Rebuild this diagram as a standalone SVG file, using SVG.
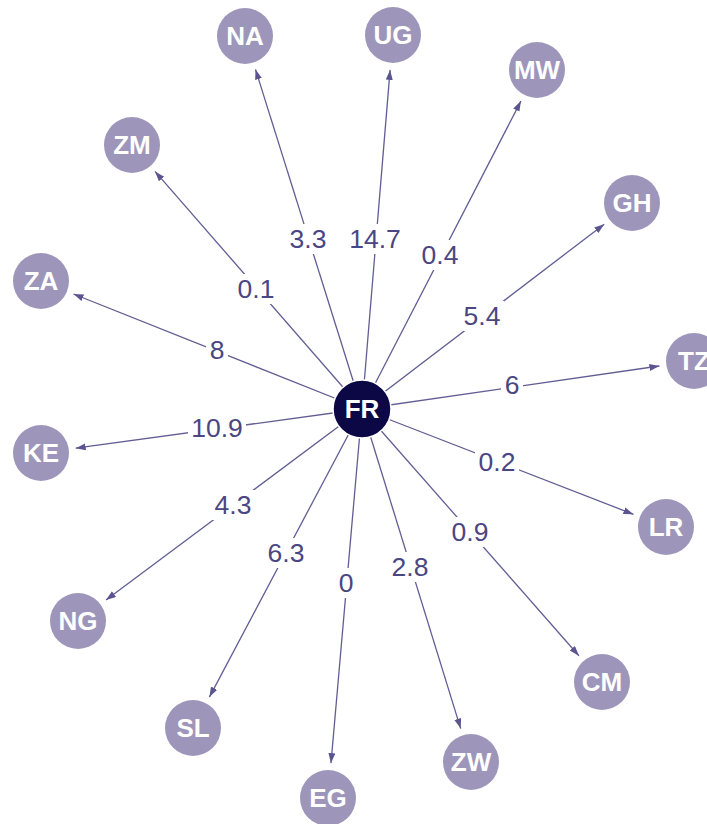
<svg xmlns="http://www.w3.org/2000/svg" width="707" height="824" viewBox="0 0 707 824">
<style>
.e{stroke:#625d93;stroke-width:1.3;fill:none;marker-end:url(#ah)}
.n{fill:#9d96ba}
.nt{fill:#fff;font-family:"Liberation Sans",Arial,sans-serif;font-weight:bold;font-size:26px;text-anchor:middle;dominant-baseline:central}
.lb{fill:#4a4683;font-family:"Liberation Sans",Arial,sans-serif;font-size:26.5px;text-anchor:middle;dominant-baseline:central}
.bg{fill:#fff}
</style>
<defs>
<marker id="ah" markerUnits="userSpaceOnUse" markerWidth="11" markerHeight="8" refX="10" refY="3.5" orient="auto">
<path d="M0,0 L10,3.5 L0,7 z" fill="#5a5590"/>
</marker>
</defs>
<rect width="707" height="824" fill="#fff"/>
<g id="edges">
<line class="e" x1="362" y1="409" x2="255.5" y2="69.4"/>
<line class="e" x1="362" y1="409" x2="390.1" y2="69.9"/>
<line class="e" x1="362" y1="409" x2="520.9" y2="101.1"/>
<line class="e" x1="362" y1="409" x2="155" y2="171.4"/>
<line class="e" x1="362" y1="409" x2="604.2" y2="224.2"/>
<line class="e" x1="362" y1="409" x2="73.5" y2="294"/>
<line class="e" x1="362" y1="409" x2="659.4" y2="366"/>
<line class="e" x1="362" y1="409" x2="75.7" y2="448.2"/>
<line class="e" x1="362" y1="409" x2="633.4" y2="514.3"/>
<line class="e" x1="362" y1="409" x2="106" y2="600.1"/>
<line class="e" x1="362" y1="409" x2="578.9" y2="655.7"/>
<line class="e" x1="362" y1="409" x2="209.4" y2="697.1"/>
<line class="e" x1="362" y1="409" x2="460.7" y2="728.6"/>
<line class="e" x1="362" y1="409" x2="331" y2="763.1"/>
</g>
<g id="edge-labels">
<rect class="bg" x="286" y="224" width="44" height="30"/><text class="lb" x="308" y="239">3.3</text>
<rect class="bg" x="346" y="224" width="58" height="30"/><text class="lb" x="375" y="239">14.7</text>
<rect class="bg" x="418" y="240" width="44" height="30"/><text class="lb" x="440" y="255">0.4</text>
<rect class="bg" x="234" y="274" width="44" height="30"/><text class="lb" x="256" y="289">0.1</text>
<rect class="bg" x="460" y="301" width="44" height="30"/><text class="lb" x="482" y="316">5.4</text>
<rect class="bg" x="206" y="335" width="22" height="30"/><text class="lb" x="217" y="350">8</text>
<rect class="bg" x="501" y="370" width="22" height="30"/><text class="lb" x="512" y="385">6</text>
<rect class="bg" x="188" y="413" width="58" height="30"/><text class="lb" x="217" y="428">10.9</text>
<rect class="bg" x="475" y="447" width="44" height="30"/><text class="lb" x="497" y="462">0.2</text>
<rect class="bg" x="211" y="490" width="44" height="30"/><text class="lb" x="233" y="505">4.3</text>
<rect class="bg" x="448" y="517" width="44" height="30"/><text class="lb" x="470" y="532">0.9</text>
<rect class="bg" x="264" y="538" width="44" height="30"/><text class="lb" x="286" y="553">6.3</text>
<rect class="bg" x="388" y="552" width="44" height="30"/><text class="lb" x="410" y="567">2.8</text>
<rect class="bg" x="335" y="568" width="22" height="30"/><text class="lb" x="346" y="583">0</text>
</g>
<g id="FR"><circle cx="362" cy="409" r="29" fill="#0c0846" stroke="#fff" stroke-width="1.5"/><text class="nt" x="362" y="409" font-size="27">FR</text></g>
<g id="NA"><circle class="n" cx="245" cy="36" r="28"/><text class="nt" x="245" y="36">NA</text></g>
<g id="UG"><circle class="n" cx="393" cy="35" r="28"/><text class="nt" x="393" y="35">UG</text></g>
<g id="MW"><circle class="n" cx="537" cy="70" r="28"/><text class="nt" x="537" y="70">MW</text></g>
<g id="ZM"><circle class="n" cx="132" cy="145" r="28"/><text class="nt" x="132" y="145">ZM</text></g>
<g id="GH"><circle class="n" cx="632" cy="203" r="28"/><text class="nt" x="632" y="203">GH</text></g>
<g id="ZA"><circle class="n" cx="41" cy="281" r="28"/><text class="nt" x="41" y="281">ZA</text></g>
<g id="TZ"><circle class="n" cx="694" cy="361" r="28"/><text class="nt" x="694" y="361">TZ</text></g>
<g id="KE"><circle class="n" cx="41" cy="453" r="28"/><text class="nt" x="41" y="453">KE</text></g>
<g id="LR"><circle class="n" cx="666" cy="527" r="28"/><text class="nt" x="666" y="527">LR</text></g>
<g id="NG"><circle class="n" cx="78" cy="621" r="28"/><text class="nt" x="78" y="621">NG</text></g>
<g id="CM"><circle class="n" cx="602" cy="682" r="28"/><text class="nt" x="602" y="682">CM</text></g>
<g id="SL"><circle class="n" cx="193" cy="728" r="28"/><text class="nt" x="193" y="728">SL</text></g>
<g id="ZW"><circle class="n" cx="471" cy="762" r="28"/><text class="nt" x="471" y="762">ZW</text></g>
<g id="EG"><circle class="n" cx="328" cy="798" r="28"/><text class="nt" x="328" y="798">EG</text></g>
</svg>
